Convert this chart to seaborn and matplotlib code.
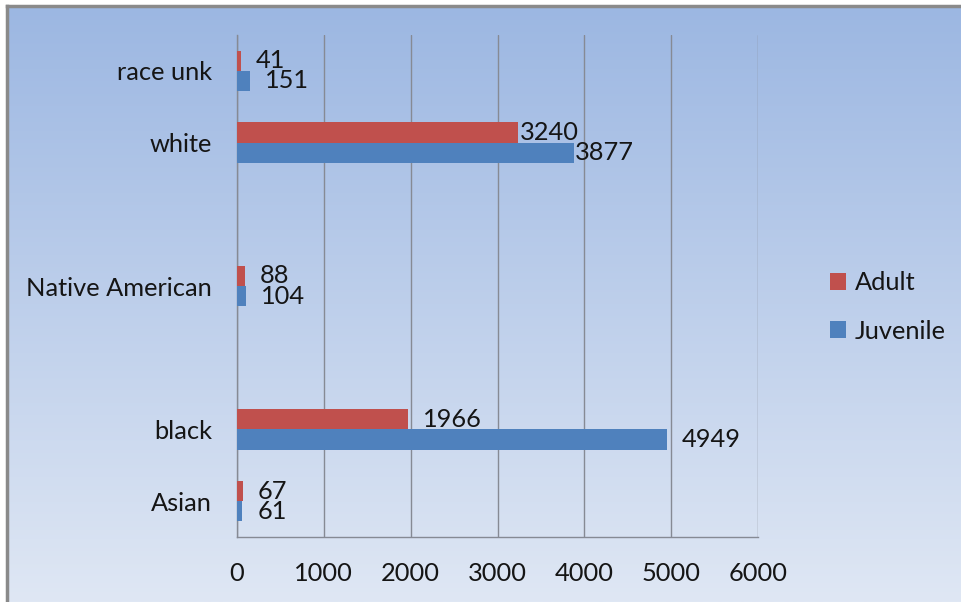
import numpy as np
import pandas as pd
import matplotlib
matplotlib.use("Agg")
import matplotlib.pyplot as plt
import seaborn as sns

# data (top to bottom); two empty slots as in the original
categories = ["race unk", "white", "Native American", "black", "Asian"]
adult = [41, 3240, 88, 1966, 67]
juvenile = [151, 3877, 104, 4949, 61]
slots = ["race unk", "white", "_gap1", "Native American", "_gap2", "black", "Asian"]
xticks = [0, 1000, 2000, 3000, 4000, 5000, 6000]

red = "#C0504D"
blue = "#4F81BD"

df = pd.DataFrame({
    "race": categories * 2,
    "count": adult + juvenile,
    "group": ["Adult"] * len(adult) + ["Juvenile"] * len(juvenile),
})

sns.set_style("white")
plt.rcParams["font.family"] = ["Lato", "DejaVu Sans"]
fs = 18.3
txt = "#151515"

fig = plt.figure(figsize=(9.61, 6.02), dpi=100)

# gradient background with border
bg = fig.add_axes([7 / 961, 0, 954 / 961, 596 / 602], zorder=-1)
top = np.array([156, 183, 226]) / 255
bot = np.array([223, 231, 244]) / 255
t = np.linspace(0, 1, 256)[:, None, None]
grad = top * (1 - t) + bot * t
bg.imshow(grad, aspect="auto", extent=[0, 1, 0, 1])
bg.set_xlim(0, 1)
bg.set_ylim(0, 1)
bg.set_xticks([])
bg.set_yticks([])
for s in ["right", "bottom"]:
    bg.spines[s].set_visible(False)
for s in ["top", "left"]:
    bg.spines[s].set_color("#8a8a8a")
    bg.spines[s].set_linewidth(2.5)

ax = fig.add_axes([237 / 961, 65 / 602, 521 / 961, 502 / 602])
ax.patch.set_alpha(0)
sns.barplot(data=df, x="count", y="race", hue="group", order=slots,
            hue_order=["Adult", "Juvenile"], palette=[red, blue],
            orient="h", width=0.56, saturation=1, linewidth=0,
            ax=ax, zorder=3)

ax.set_xlim(0, 6000)
ax.set_ylim(len(slots) - 0.5, -0.5)
ax.set_xticks(xticks)
ax.set_xticklabels([str(v) for v in xticks], fontsize=fs)
ax.set_xlabel("")
ax.set_ylabel("")

# category labels at slot centres, tick marks at slot boundaries
ax.set_yticks(range(len(slots)))
ax.set_yticklabels([s if not s.startswith("_") else "" for s in slots], fontsize=fs)
ax.set_yticks(np.arange(-0.5, len(slots), 1), minor=True)
ax.tick_params(axis="y", which="major", length=0, pad=18)
ax.tick_params(axis="y", which="minor", length=6, width=1, color="#808080", direction="out")
ax.tick_params(axis="x", length=6, width=1, color="#808080", direction="out", pad=12)
ax.tick_params(colors=txt, which="major")

ax.grid(axis="x", color="#868a94", linewidth=1, zorder=0)
ax.set_axisbelow(True)
for s in ["top", "right"]:
    ax.spines[s].set_visible(False)
for s in ["left", "bottom"]:
    ax.spines[s].set_color("#868a94")
    ax.spines[s].set_linewidth(1)

# value labels
label_pad = {"white": 1}
for cont, vals in zip(ax.containers, [adult, juvenile]):
    for cat, v in zip(categories, vals):
        bar = cont.patches[slots.index(cat)] if len(cont.patches) == len(slots) else cont.patches[categories.index(cat)]
        yc = bar.get_y() + bar.get_height() / 2
        ax.annotate(str(v), (bar.get_width(), yc), xytext=(label_pad.get(cat, 11), 0),
                    textcoords="offset points", va="center", ha="left",
                    fontsize=fs, color=txt, zorder=5)

leg = ax.legend(loc="upper left", bbox_to_anchor=(1.095, 0.575), frameon=False,
                fontsize=fs, handlelength=0.62, handleheight=0.62,
                handletextpad=0.35, labelspacing=1.0)
for h in leg.legend_handles:
    h.set_linewidth(0)
for tx in leg.get_texts():
    tx.set_color(txt)

fig.savefig("out.png", dpi=100)
